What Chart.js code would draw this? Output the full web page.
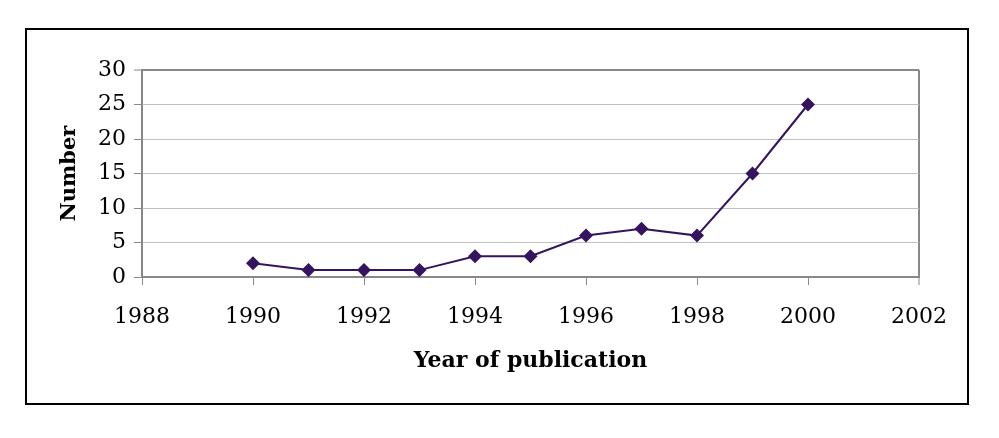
<!DOCTYPE html>
<html>
<head>
<meta charset="utf-8">
<script src="https://cdn.jsdelivr.net/npm/chart.js@4"></script>
<style>
html,body{margin:0;padding:0;background:#fff;}
#wrap{position:absolute;left:0;top:0;width:999px;height:438px;}
</style>
</head>
<body>
<div id="wrap"><canvas id="c" width="999" height="438"></canvas></div>
<script>
const years = [1990, 1991, 1992, 1993, 1994, 1995, 1996, 1997, 1998, 1999, 2000];
const counts = [2, 1, 1, 1, 3, 3, 6, 7, 6, 15, 25];
const xAxisTitle = 'Year of publication';
const yAxisTitle = 'Number';

const points = years.map((y, i) => ({x: y, y: counts[i]}));

const outerBox = {
  id: 'outerBox',
  beforeDraw(chart) {
    const ctx = chart.ctx;
    ctx.save();
    ctx.fillStyle = '#ffffff';
    ctx.fillRect(0, 0, chart.width, chart.height);
    ctx.strokeStyle = '#000000';
    ctx.lineWidth = 2;
    ctx.strokeRect(26, 29, 942, 375);
    ctx.restore();
  }
};

new Chart(document.getElementById('c'), {
  type: 'line',
  data: {
    datasets: [{
      data: points,
      borderColor: '#35145f',
      backgroundColor: '#35145f',
      borderWidth: 2,
      pointStyle: 'rectRot',
      pointRadius: 7,
      pointHoverRadius: 7,
      pointBorderWidth: 0,
      tension: 0,
      fill: false
    }]
  },
  options: {
    responsive: false,
    animation: false,
    devicePixelRatio: 1,
    layout: {padding: {left: 0, top: 70, right: 80, bottom: 0}},
    plugins: {legend: {display: false}, tooltip: {enabled: false}},
    scales: {
      x: {
        type: 'linear',
        min: 1988, max: 2002,
        afterFit(s) { s.height = 161; },
        ticks: {stepSize: 2, color: '#000', padding: 19, font: {family: 'DejaVu Serif', size: 22}, callback: v => String(v)},
        grid: {
          drawOnChartArea: true,
          color: c => (c.tick && c.tick.value === 2002) ? '#888888' : 'rgba(0,0,0,0)',
          lineWidth: c => (c.tick && c.tick.value === 2002) ? 2 : 1,
          tickColor: '#888888', tickLength: 8, tickWidth: 1
        },
        border: {color: '#888888', width: 2},
        title: {display: true, text: xAxisTitle, color: '#000', padding: 64, font: {family: 'DejaVu Serif', size: 22, weight: 'bold'}}
      },
      y: {
        min: 0, max: 30,
        afterFit(s) { s.width = 142; },
        ticks: {stepSize: 5, color: '#000', padding: 8, font: {family: 'DejaVu Serif', size: 22}},
        grid: {
          color: c => (c.tick && c.tick.value === 30) ? '#888888' : '#c0c0c0',
          lineWidth: c => (c.tick && c.tick.value === 30) ? 2 : 1,
          tickColor: '#888888', tickLength: 8, tickWidth: 1
        },
        border: {color: '#888888', width: 2},
        title: {display: true, text: yAxisTitle, color: '#000', padding: 57, font: {family: 'DejaVu Serif', size: 21, weight: 'bold'}}
      }
    }
  },
  plugins: [outerBox]
});
</script>
</body>
</html>
